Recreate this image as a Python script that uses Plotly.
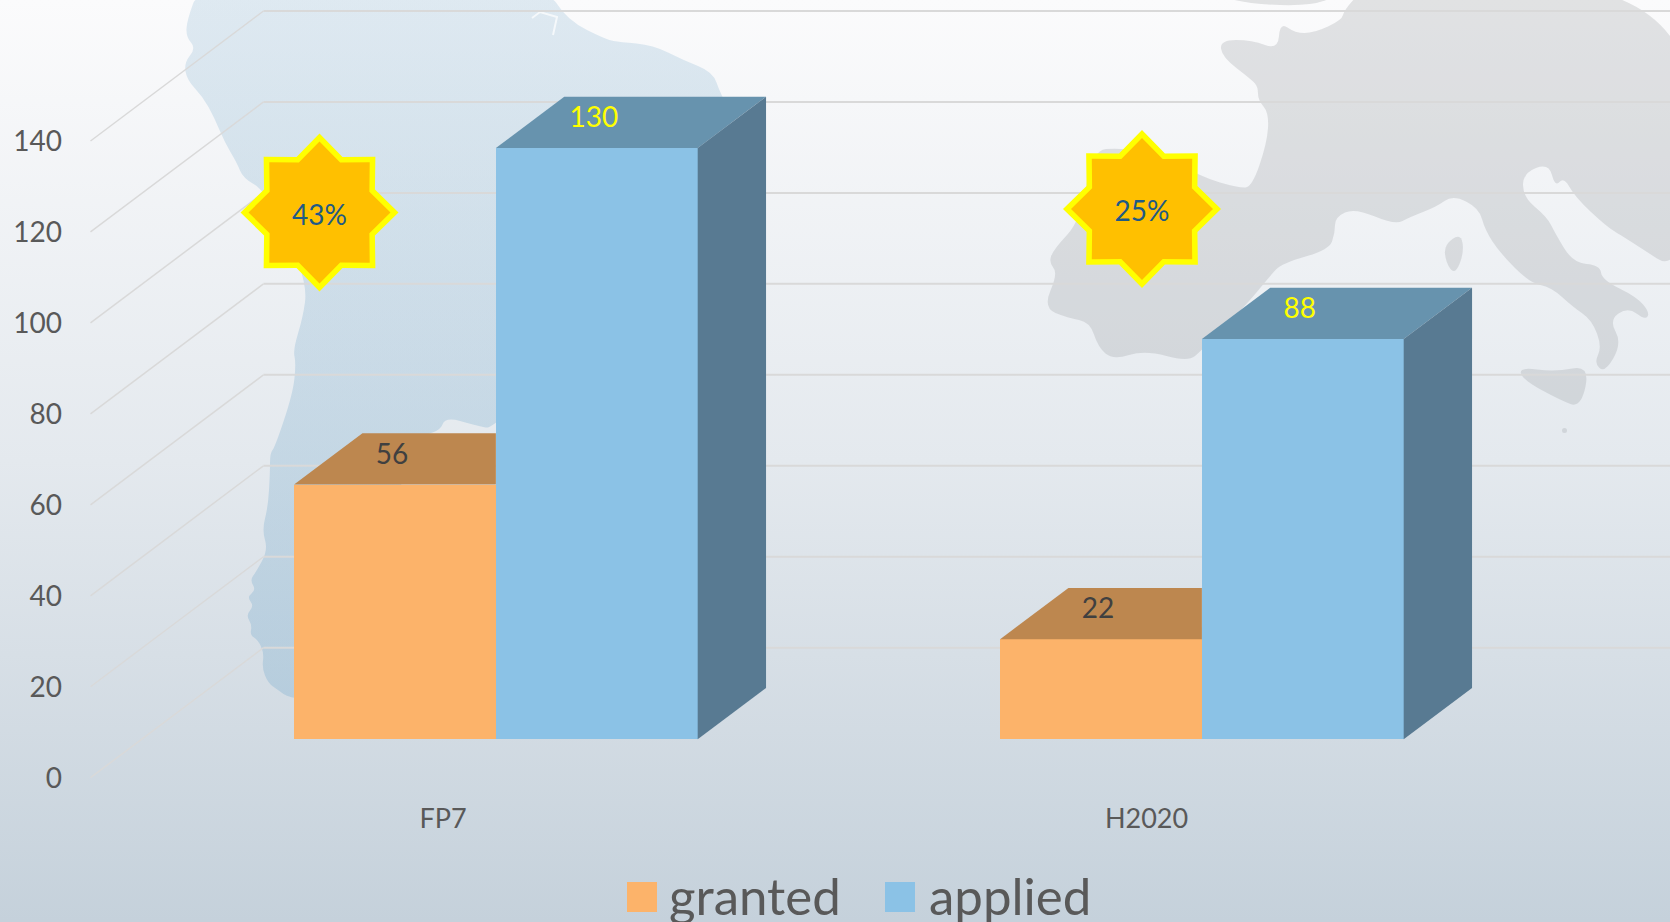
import base64
import math
import plotly.graph_objects as go

# ---------- data ----------
CATEGORIES = ["FP7", "H2020"]
GRANTED = [56, 22]
APPLIED = [130, 88]
PERCENT_LABELS = ["43%", "25%"]
Y_TICKS = [0, 20, 40, 60, 80, 100, 120, 140]
SERIES_NAMES = ["granted", "applied"]

# ---------- page geometry ----------
W, H = 1670, 922
X_UNIT = 703.5          # px per category step
X0_PX = 443.0           # px of first category tick
Y_UNIT = 4.548          # px per value unit
Y0_PX = 777.7           # px of value 0 on the front plane
DEPTH_X = 173.0 / X_UNIT   # full floor depth, axis units
DEPTH_Y = 130.0 / Y_UNIT
FRONT = 0.30            # bars begin this far into the floor
BAR_DEPTH = 0.395
BAR_W = 201.8 / X_UNIT
GROUP_STEP = 706.0 / X_UNIT
GROUP_NUDGE = 1.0 / X_UNIT
BASE_NUDGE = -0.6 / Y_UNIT

def xpx(p): return (p - X0_PX) / X_UNIT
def ypx(p): return (Y0_PX - p) / Y_UNIT

GRID = "#D9D9D9"
TEXT = "#595959"
ORANGE, ORANGE_TOP = "#FCB36A", "#BD874F"
BLUE, BLUE_TOP, BLUE_SIDE = "#8BC2E6", "#6793AE", "#587A92"
FONT = "Lato"

# ---------- background artwork (gradient and faint map) ----------
AMERICA = [(200,-15),(187,20),(186,37),(196,48),(184,63),(187,80),(203,97),(214,117),(225,143),(237,163),
           (243,178),(264,190),(290,240),(307,287),(303,317),(293,350),(296,363),(293,393),(275,447),(270,453),
           (270,473),(268,507),(262,530),(268,550),(256,572),(250,580),(256,590),(247,597),(254,606),(246,615),
           (252,625),(250,635),(258,640),(264,653),(262,668),(268,683),(278,690),(289,698),
           (320,700),(400,600),(400,440),(440,432),(445,417),(475,425),(496,430),(600,300),(740,130),(720,93),
           (713,72),(683,60),(653,45),(620,42),(607,40),(567,20),(545,-15)]
EUROPE = [(1367,-15),(1344,10),(1342,20),(1314,33),(1295,33),(1280,22),(1278,50),(1252,40),(1220,40),(1222,57),
          (1252,80),(1258,87),(1258,100),(1269,113),(1267,143),(1252,187),(1239,188),(1201,177),(1162,153),
          (1120,148),(1092,150),(1081,220),(1053,250),(1049,263),(1058,273),(1043,308),(1068,318),(1090,322),
          (1098,347),(1113,360),(1145,350),(1188,362),(1202,350),(1248,303),(1269,277),(1282,263),(1329,250),
          (1335,233),(1335,217),(1355,208),(1395,225),(1410,217),(1436,207),(1453,195),(1479,208),(1485,230),
          (1500,253),(1530,283),(1551,287),(1573,307),(1592,320),(1602,347),(1594,363),(1605,373),(1622,343),
          (1609,320),(1628,307),(1645,320),(1650,313),(1637,297),(1602,280),(1600,265),(1573,263),(1555,233),
          (1547,217),(1523,197),(1523,173),(1549,163),(1555,187),(1564,177),(1575,197),(1607,227),(1624,237),
          (1690,280),(1700,-15)]
ISLANDS = [[(1461,233),(1444,245),(1446,263),(1455,275),(1464,253)],
           [(1519,367),(1555,372),(1590,365),(1581,408),(1560,400),(1523,380)],
           [(1215,-5),(1340,-5),(1310,6),(1250,4)],
           [(1562,428),(1567,428),(1567,433),(1562,433)]]

def smooth(p):
    """Closed outline with the corners softened."""
    mid = lambda a, b: ((a[0] + b[0]) / 2, (a[1] + b[1]) / 2)
    start = mid(p[-1], p[0])
    d = f"M{start[0]},{start[1]}"
    for i, q in enumerate(p):
        m = mid(q, p[(i + 1) % len(p)])
        d += f"Q{q[0]},{q[1]} {m[0]},{m[1]}"
    return d + "Z"

svg = f'''<svg xmlns="http://www.w3.org/2000/svg" width="{W}" height="{H}" viewBox="0 0 {W} {H}" preserveAspectRatio="none">
<defs><linearGradient id="g" x1="0" y1="0" x2="0" y2="1">
<stop offset="0" stop-color="#FBFBFC"/><stop offset="0.5" stop-color="#E4E9EE"/><stop offset="1" stop-color="#C5D1DB"/>
</linearGradient>
<linearGradient id="sa" gradientUnits="userSpaceOnUse" x1="0" y1="0" x2="0" y2="700">
<stop offset="0" stop-color="#8DB7D3" stop-opacity="0.26"/><stop offset="1" stop-color="#8DB7D3" stop-opacity="0.42"/>
</linearGradient></defs>
<rect width="{W}" height="{H}" fill="url(#g)"/>
<path d="{smooth(AMERICA)}" fill="url(#sa)"/>
<polyline points="532,18 540,12 557,17 553,35" fill="none" stroke="#FFFFFF" stroke-opacity="0.7" stroke-width="2"/>
<path d="{smooth(EUROPE)}" fill="#8F9296" fill-opacity="0.24"/>
''' + "".join(f'<path d="{smooth(p)}" fill="#8F9296" fill-opacity="0.24"/>' for p in ISLANDS) + "</svg>"
BG = "data:image/svg+xml;base64," + base64.b64encode(svg.encode()).decode()

fig = go.Figure()
base_y = FRONT * DEPTH_Y + BASE_NUDGE
shift_x = FRONT * DEPTH_X + GROUP_NUDGE
bd_x, bd_y = BAR_DEPTH * DEPTH_X, BAR_DEPTH * DEPTH_Y

def poly(xs, ys, color):
    fig.add_trace(go.Scatter(x=xs + xs[:1], y=ys + ys[:1], mode="lines", fill="toself", fillcolor=color,
                             line=dict(width=0, color=color), hoverinfo="skip", showlegend=False))

# bars, front faces
x_granted = [i * GROUP_STEP + shift_x - BAR_W / 2 for i in range(len(CATEGORIES))]
x_applied = [i * GROUP_STEP + shift_x + BAR_W / 2 for i in range(len(CATEGORIES))]
fig.add_trace(go.Bar(name=SERIES_NAMES[0], x=x_granted, y=GRANTED, base=base_y, width=BAR_W,
                     marker=dict(color=ORANGE, line_width=0), showlegend=False))
fig.add_trace(go.Bar(name=SERIES_NAMES[1], x=x_applied, y=APPLIED, base=base_y, width=BAR_W,
                     marker=dict(color=BLUE, line_width=0), showlegend=False))

# bar top and side faces
for i in range(len(CATEGORIES)):
    g_top = base_y + GRANTED[i]
    l, r = x_granted[i] - BAR_W / 2, x_granted[i] + BAR_W / 2
    poly([l, l + bd_x, r, r], [g_top, g_top + bd_y, g_top + bd_y, g_top], ORANGE_TOP)
    a_top = base_y + APPLIED[i]
    l, r = x_applied[i] - BAR_W / 2, x_applied[i] + BAR_W / 2
    poly([l, l + bd_x, r + bd_x, r], [a_top, a_top + bd_y, a_top + bd_y, a_top], BLUE_TOP)
    poly([r, r + bd_x, r + bd_x, r], [base_y, base_y + bd_y, a_top + bd_y, a_top], BLUE_SIDE)

# value labels on the top faces
LABEL_LIFT = 28 / Y_UNIT
LABEL_NUDGE = -3 / X_UNIT
fig.add_trace(go.Scatter(x=[v + LABEL_NUDGE for v in x_granted], y=[v + base_y + LABEL_LIFT for v in GRANTED],
                         mode="text", text=[str(v) for v in GRANTED],
                         textfont=dict(family=FONT, size=28, color="#404040"), hoverinfo="skip", showlegend=False))
fig.add_trace(go.Scatter(x=[v + LABEL_NUDGE for v in x_applied], y=[v + base_y + LABEL_LIFT for v in APPLIED],
                         mode="text", text=[str(v) for v in APPLIED],
                         textfont=dict(family=FONT, size=28, color="#FFFF00"), hoverinfo="skip", showlegend=False))

# percentage stars
STAR_CENTERS_PX = [(319.5, 212.5), (1142.0, 209.0)]
def star(cx, cy, R, r):
    xs, ys = [], []
    for k in range(16):
        a = math.pi * k / 8
        rad = R if k % 2 == 0 else r
        xs.append(xpx(cx + rad * math.sin(a)))
        ys.append(ypx(cy - rad * math.cos(a)))
    return xs, ys
for c in STAR_CENTERS_PX:
    poly(*star(c[0], c[1], 79, 60), "#FFFF00")
    poly(*star(c[0], c[1], 71, 54), "#FFC000")
fig.add_trace(go.Scatter(x=[xpx(c[0]) for c in STAR_CENTERS_PX], y=[ypx(c[1] + 5) for c in STAR_CENTERS_PX],
                         mode="text", text=PERCENT_LABELS,
                         textfont=dict(family=FONT, size=28, color="#1F5A85"), hoverinfo="skip", showlegend=False))

# perspective gridlines
shapes = []
for t in Y_TICKS:
    shapes.append(dict(type="line", xref="x", yref="y", layer="below", x0=xpx(90.5), y0=t,
                       x1=xpx(90.5) + DEPTH_X, y1=t + DEPTH_Y, line=dict(color=GRID, width=1.5)))
    shapes.append(dict(type="line", xref="x", yref="y", layer="below", x0=xpx(90.5) + DEPTH_X, y0=t + DEPTH_Y,
                       x1=xpx(W), y1=t + DEPTH_Y, line=dict(color=GRID, width=2)))

# legend
def pf_x(p): return p / W
def pf_y(p): return 1 - p / H
annotations = []
LEGEND_PX = [(627, 667, ORANGE), (885, 927, BLUE)]
for name, (sx, tx, col) in zip(SERIES_NAMES, LEGEND_PX):
    shapes.append(dict(type="rect", xref="paper", yref="paper", layer="above", x0=pf_x(sx), x1=pf_x(sx + 30),
                       y0=pf_y(912), y1=pf_y(882), fillcolor=col, line_width=0))
    annotations.append(dict(xref="paper", yref="paper", x=pf_x(tx), y=pf_y(895), text=name, showarrow=False,
                            xanchor="left", yanchor="middle", font=dict(family=FONT, size=51, color=TEXT)))

fig.update_layout(
    width=W, height=H, margin=dict(l=0, r=0, t=0, b=0, pad=0), autosize=False,
    paper_bgcolor="rgba(0,0,0,0)", plot_bgcolor="rgba(0,0,0,0)", barmode="overlay", bargap=0,
    showlegend=False, shapes=shapes, annotations=annotations,
    images=[dict(source=BG, xref="paper", yref="paper", x=0, y=1, sizex=1, sizey=1,
                 sizing="stretch", layer="below", xanchor="left", yanchor="top")],
    xaxis=dict(range=[xpx(0), xpx(W)], domain=[0, 1], anchor="free", position=1 - 800 / H, showgrid=False, zeroline=False,
               showline=False, tickmode="array", tickvals=list(range(len(CATEGORIES))), ticktext=CATEGORIES,
               ticks="", tickfont=dict(family=FONT, size=27, color=TEXT), fixedrange=True),
    yaxis=dict(range=[ypx(H), ypx(0)], domain=[0, 1], anchor="free", position=62 / W, showgrid=False, zeroline=False,
               showline=False, tickmode="array", tickvals=Y_TICKS, ticktext=[str(t) for t in Y_TICKS],
               ticks="", tickfont=dict(family=FONT, size=28, color=TEXT), fixedrange=True),
)

fig.write_html("out.html", config={"displayModeBar": False},
               post_script="document.body.style.margin='0';document.documentElement.style.overflow='hidden';")
